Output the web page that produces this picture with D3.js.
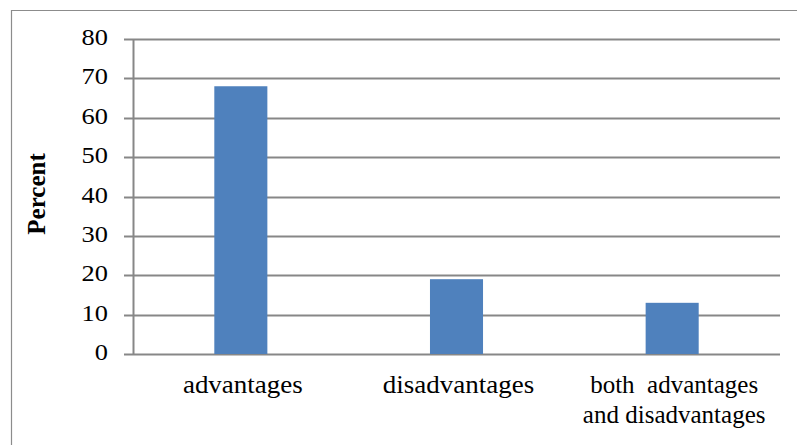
<!DOCTYPE html>
<html>
<head>
<meta charset="utf-8">
<script src="https://cdn.jsdelivr.net/npm/d3@7"></script>
<style>
  html, body { margin: 0; padding: 0; background: #fff; }
  svg { display: block; }
</style>
</head>
<body>
<svg id="chart" width="797" height="445"></svg>
<script>
// Share of responses by category
const categories = ["advantages", "disadvantages", "both  advantages\nand disadvantages"];
const percentValues = [68, 19, 13];
const yTicks = [0, 10, 20, 30, 40, 50, 60, 70, 80];
const yTitle = "Percent";

const svg = d3.select("#chart");
const W = 797, H = 445;
const margin = { top: 39, right: 17, bottom: 91, left: 133 };
const innerW = W - margin.left - margin.right;
const innerH = H - margin.top - margin.bottom;
const gridColor = "#878787";
const serif = "'Liberation Serif', 'Times New Roman', Times, serif";

// Outer frame (top and left edges)
svg.append("line").attr("x1", 11).attr("x2", W).attr("y1", 10.5).attr("y2", 10.5)
  .attr("stroke", "#8c8c8c").attr("stroke-width", 1.2);
svg.append("line").attr("x1", 11.5).attr("x2", 11.5).attr("y1", 10).attr("y2", H)
  .attr("stroke", "#8c8c8c").attr("stroke-width", 1.2);

const g = svg.append("g").attr("transform", `translate(${margin.left},${margin.top})`);

const x = d3.scaleBand().domain(categories).range([0, innerW]).paddingInner(0.754).paddingOuter(0.377);
const y = d3.scaleLinear().domain([0, 80]).range([innerH, 0]);

// Horizontal gridlines with tick stubs to the left
g.append("g").selectAll("line").data(yTicks).join("line")
  .attr("x1", -9).attr("x2", innerW)
  .attr("y1", d => Math.round(y(d)) + 0.5).attr("y2", d => Math.round(y(d)) + 0.5)
  .attr("stroke", gridColor).attr("stroke-width", 2);

// Vertical axis line
g.append("line").attr("x1", 0.5).attr("x2", 0.5).attr("y1", 0).attr("y2", innerH + 1)
  .attr("stroke", gridColor).attr("stroke-width", 2);

// Bars
g.append("g").selectAll("rect").data(percentValues).join("rect")
  .attr("x", (d, i) => x(categories[i]))
  .attr("width", x.bandwidth())
  .attr("y", d => y(d))
  .attr("height", d => innerH - y(d))
  .attr("fill", "#4f81bd");

// Y tick labels
g.append("g").selectAll("text").data(yTicks).join("text")
  .attr("transform", d => `translate(-25,${y(d) + 6}) scale(1.1,1)`)
  .attr("text-anchor", "end")
  .attr("font-family", serif)
  .attr("font-size", 24)
  .text(d => d);

// Category labels; wrapped labels are set a little narrower
const catG = g.append("g");
categories.forEach(c => {
  const lines = c.split("\n");
  const sx = lines.length > 1 ? 1.0 : 1.08;
  const t = catG.append("text")
    .attr("transform", `translate(${x(c) + x.bandwidth() / 2 + 2},${innerH + 39}) scale(${sx},1)`)
    .attr("text-anchor", "middle")
    .attr("font-family", serif)
    .attr("font-size", 25)
    .style("white-space", "pre");
  lines.forEach((ln, i) => {
    t.append("tspan").attr("x", 0).attr("dy", i === 0 ? 0 : 30).text(ln);
  });
});

// Y axis title
svg.append("text")
  .attr("transform", `translate(45,194) rotate(-90)`)
  .attr("text-anchor", "middle")
  .attr("font-family", serif)
  .attr("font-size", 25)
  .attr("font-weight", "bold")
  .text(yTitle);
</script>
</body>
</html>
